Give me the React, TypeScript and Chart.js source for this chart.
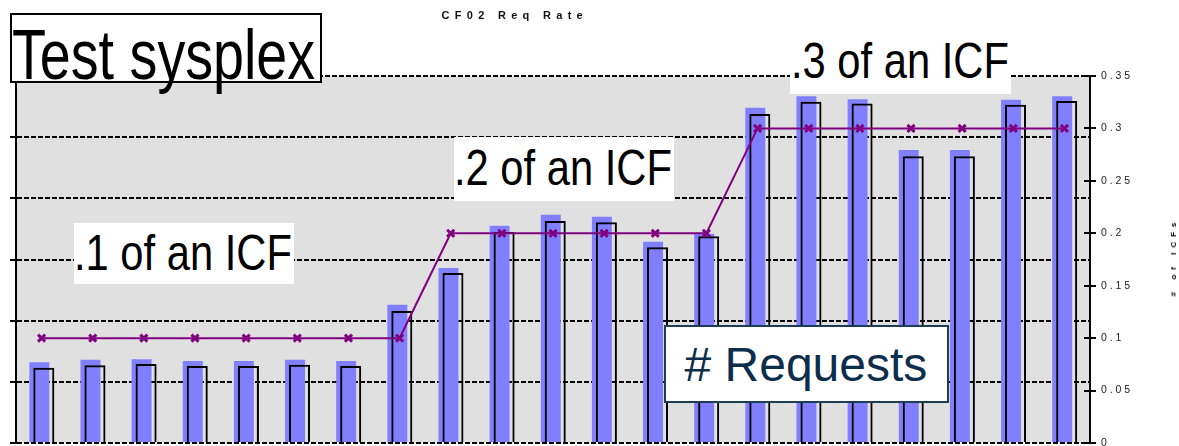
import React, { useEffect, useRef } from "react";
import { Chart, registerables } from "chart.js";

Chart.register(...registerables);

// ---- data ----
const categories = ["1", "2", "3", "4", "5", "6", "7", "8", "9", "10", "11", "12", "13", "14", "15", "16", "17", "18", "19", "20", "21"];
// # Requests (left axis, filled blue bars)
const requestsFilled = [1.32, 1.36, 1.37, 1.34, 1.34, 1.36, 1.34, 2.26, 2.86, 3.55, 3.73, 3.70, 3.29, 3.42, 5.48, 5.67, 5.62, 4.79, 4.79, 5.61, 5.67];
// # Requests (left axis, outlined bars)
const requestsOutline = [1.23, 1.27, 1.29, 1.26, 1.26, 1.28, 1.26, 2.16, 2.78, 3.45, 3.63, 3.61, 3.20, 3.38, 5.38, 5.58, 5.55, 4.69, 4.69, 5.53, 5.59];
// CF02 Req Rate (right axis) – share of an ICF
const icfShare = [0.1, 0.1, 0.1, 0.1, 0.1, 0.1, 0.1, 0.1, 0.2, 0.2, 0.2, 0.2, 0.2, 0.2, 0.3, 0.3, 0.3, 0.3, 0.3, 0.3, 0.3];
const leftTickValues = [0, 1, 2, 3, 4, 5, 6];
const rightTickValues = [0, 0.05, 0.1, 0.15, 0.2, 0.25, 0.3, 0.35];
const rightTickLabels = ["0", "0.05", "0.1", "0.15", "0.2", "0.25", "0.3", "0.35"];

const chartTitle = "CF02 Req Rate";
const rightAxisTitle = "# of ICFs";

const spaced = (s: string) => s.split("").join(" ");

const FONT = '"Liberation Sans", Arial, sans-serif';

const plotBg = {
  id: "plotBg",
  beforeDraw(chart: any) {
    const { ctx, chartArea } = chart;
    ctx.save();
    ctx.fillStyle = "#e0e0e0";
    ctx.fillRect(chartArea.left, chartArea.top, chartArea.width, chartArea.height);
    ctx.restore();
  },
};

export default function App() {
  const canvasRef = useRef<HTMLCanvasElement | null>(null);

  useEffect(() => {
    if (!canvasRef.current) return;
    Chart.defaults.font.family = FONT;
    const chart = new Chart(canvasRef.current, {
      type: "bar",
      data: {
        labels: categories,
        datasets: [
          {
            type: "line",
            label: chartTitle,
            data: icfShare,
            yAxisID: "y1",
            borderColor: "#800080",
            borderWidth: 2,
            pointStyle: "crossRot",
            pointRadius: 5,
            pointBorderWidth: 3,
            pointBorderColor: "#800080",
            pointBackgroundColor: "#800080",
            tension: 0,
            order: 0,
          } as any,
          {
            type: "bar",
            label: "spacer",
            data: [],
            yAxisID: "y",
            stack: "a",
            order: 1,
          } as any,
          {
            type: "bar",
            label: "# Requests outline",
            data: requestsOutline,
            yAxisID: "y",
            stack: "b",
            order: 2,
            backgroundColor: "rgba(0,0,0,0)",
            borderColor: "#000000",
            borderWidth: 2,
            categoryPercentage: 0.176,
            barPercentage: 4.67,
          } as any,
          {
            type: "bar",
            label: "# Requests",
            data: requestsFilled,
            yAxisID: "y",
            stack: "a",
            order: 3,
            backgroundColor: "#8080ff",
            borderWidth: 0,
            categoryPercentage: 0.176,
            barPercentage: 4.44,
          } as any,
        ],
      },
      options: {
        responsive: false,
        animation: false,
        layout: { autoPadding: false, padding: { left: 10, right: 0, top: 76, bottom: 3 } } as any,
        plugins: {
          legend: { display: false },
          title: { display: false },
          tooltip: { enabled: false },
        },
        scales: {
          x: { display: false, offset: true },
          y: {
            position: "left",
            min: 0,
            max: 6,
            stacked: false,
            afterBuildTicks: (s: any) => {
              s.ticks = leftTickValues.map((v) => ({ value: v }));
            },
            ticks: { display: false },
            grid: { color: "#000000", lineWidth: 2, tickLength: 6, tickWidth: 2, tickColor: "#000000" },
            border: { display: true, color: "#000000", width: 2, dash: [5, 2] },
          },
          y1: {
            position: "right",
            weight: 1,
            min: 0,
            max: 0.35,
            stacked: false,
            afterBuildTicks: (s: any) => {
              s.ticks = rightTickValues.map((v) => ({ value: v }));
            },
            afterFit: (s: any) => {
              s.width = 89;
              s.paddingTop = 0;
              s.paddingBottom = 0;
            },
            ticks: {
              color: "#222222",
              font: { size: 10.5 },
              padding: 5,
              callback: (_v: any, i: number) => spaced(rightTickLabels[i]),
            },
            grid: { drawOnChartArea: false, color: "#000000", lineWidth: 2, tickLength: 6 },
            border: { display: true, color: "#000000", width: 2 },
          },
          // inner half of the right-axis tick marks (ticks cross the axis line)
          y2: {
            position: "right",
            weight: 0,
            min: 0,
            max: 0.35,
            stacked: false,
            afterBuildTicks: (s: any) => {
              s.ticks = rightTickValues.map((v) => ({ value: v }));
            },
            afterFit: (s: any) => {
              s.width = 0;
              s.paddingTop = 0;
              s.paddingBottom = 0;
            },
            ticks: { display: false },
            grid: { drawOnChartArea: false, color: "#000000", lineWidth: 2, tickLength: -6 },
            border: { display: false },
          },
        } as any,
      },
      plugins: [plotBg],
    });
    return () => chart.destroy();
  }, []);

  const abs: React.CSSProperties = { position: "absolute", whiteSpace: "nowrap", fontFamily: FONT };

  return (
    <div style={{ position: "absolute", left: 0, top: 0, width: 1179, height: 446, overflow: "hidden", background: "#ffffff" }}>
      <canvas ref={canvasRef} width={1179} height={446} style={{ position: "absolute", left: 0, top: 0 }} />

      {/* chart title */}
      <div style={{ ...abs, left: 441.5, top: 10, fontSize: 11, lineHeight: "11px", fontWeight: 700, letterSpacing: "5.3px", color: "#111" }}>
        {chartTitle}
      </div>

      {/* right axis title */}
      <div
        style={{
          ...abs,
          left: 1174,
          top: 257,
          fontSize: 8,
          lineHeight: "8px",
          fontWeight: 700,
          letterSpacing: "5px",
          color: "#000",
          transform: "translate(-50%, -50%) rotate(-90deg)",
        }}
      >
        {rightAxisTitle}
      </div>

      {/* Test sysplex */}
      <div style={{ position: "absolute", left: 10, top: 13, width: 312, height: 70, boxSizing: "border-box", border: "2px solid #000", background: "#fff" }} />
      <div style={{ ...abs, left: 11.5, top: 19.2, fontSize: 71, lineHeight: "71px", color: "#000", transform: "scaleX(0.784)", transformOrigin: "left top" }}>
        Test sysplex
      </div>

      {/* .1 of an ICF */}
      <div style={{ position: "absolute", left: 74, top: 223, width: 220, height: 61, background: "#fff" }} />
      <div style={{ ...abs, left: 74.2, top: 227.7, fontSize: 50, lineHeight: "50px", color: "#000", transform: "scaleX(0.834)", transformOrigin: "left top" }}>
        .1 of an ICF
      </div>

      {/* .2 of an ICF */}
      <div style={{ position: "absolute", left: 454, top: 137, width: 220, height: 64, background: "#fff" }} />
      <div style={{ ...abs, left: 454.2, top: 142.7, fontSize: 50, lineHeight: "50px", color: "#000", transform: "scaleX(0.834)", transformOrigin: "left top" }}>
        .2 of an ICF
      </div>

      {/* .3 of an ICF */}
      <div style={{ position: "absolute", left: 790, top: 32, width: 221, height: 62, background: "#fff" }} />
      <div style={{ ...abs, left: 791, top: 35.7, fontSize: 50, lineHeight: "50px", color: "#000", transform: "scaleX(0.834)", transformOrigin: "left top" }}>
        .3 of an ICF
      </div>

      {/* # Requests */}
      <div style={{ position: "absolute", left: 664, top: 325, width: 285, height: 78, boxSizing: "border-box", border: "2px solid #1e3d55", background: "#fff" }} />
      <div style={{ ...abs, left: 684.5, top: 341.4, fontSize: 48, lineHeight: "48px", color: "#0c2d4c" }}>
        # Requests
      </div>
    </div>
  );
}
